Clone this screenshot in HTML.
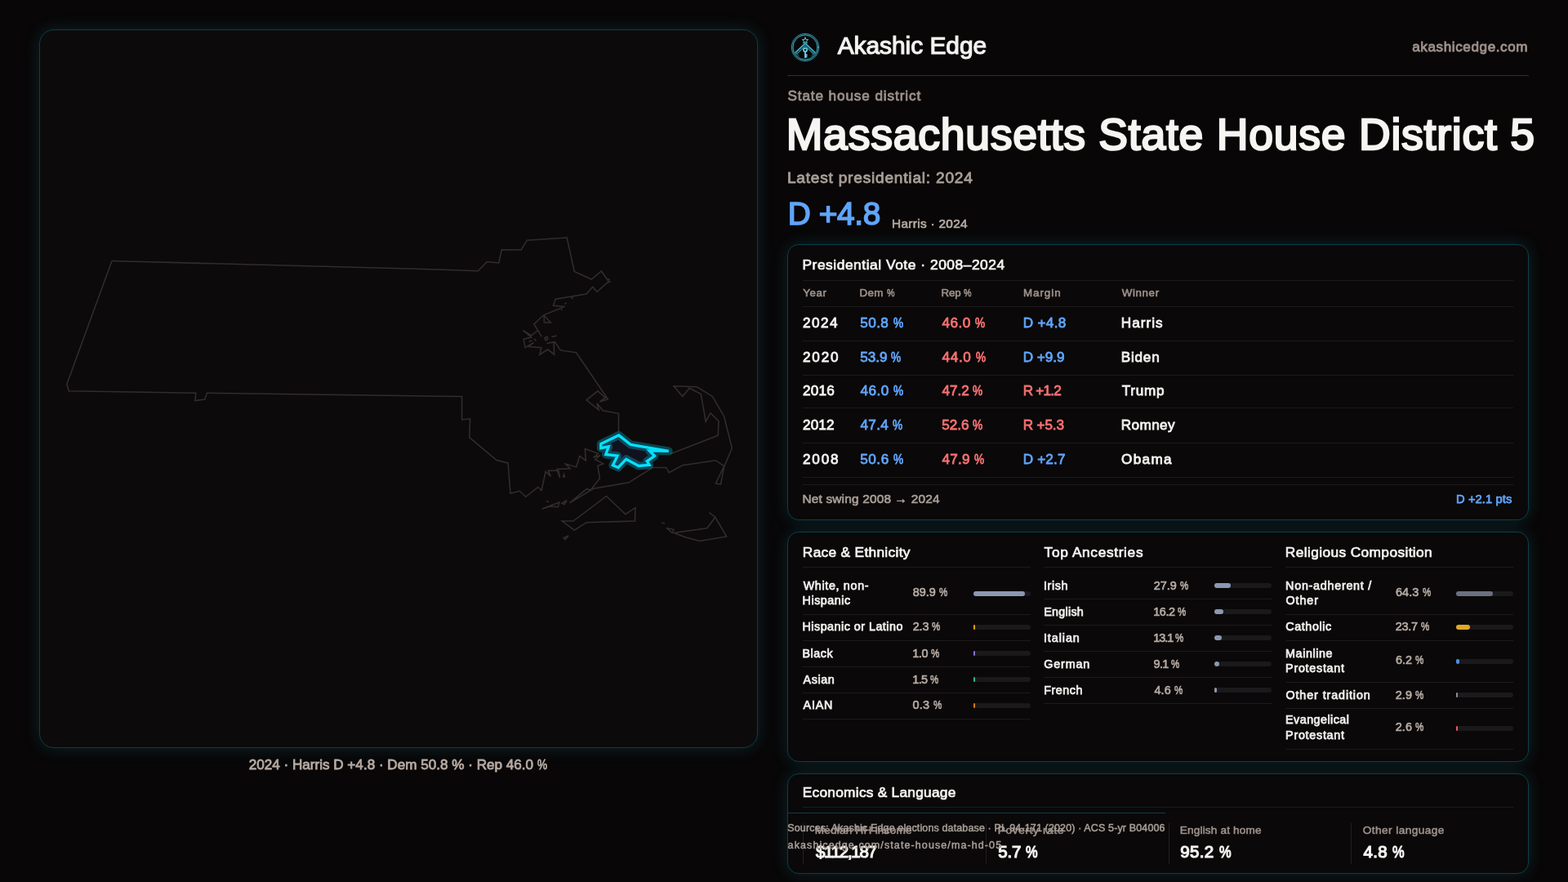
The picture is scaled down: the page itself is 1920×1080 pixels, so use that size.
<!DOCTYPE html>
<html lang="en">
<head>
<meta charset="utf-8">
<title>Massachusetts State House District 5 · Akashic Edge</title>
<style>
*{box-sizing:border-box}
html,body{margin:0;padding:0}
body{width:1920px;height:1080px;overflow:hidden;position:relative;background:#080607;color:#f5f3f0;
  font-family:"Liberation Sans","DejaVu Sans",sans-serif;-webkit-font-smoothing:antialiased}
.t{position:absolute;white-space:pre;line-height:1;margin:0;padding:0;font-weight:400}
.pc{display:inline-block;transform:scaleX(0.8);transform-origin:0 50%}
.card{position:absolute;border:1px solid #0b3e4a;border-radius:14px;background:#0a0809;
  box-shadow:0 0 20px rgba(40,215,235,.15)}
#map{left:48px;top:36px;width:880px;height:880px;border-radius:18px;margin:0;background:#0c0a0b}
.mapsvg{position:absolute;left:0;top:0}
#cap{position:absolute;left:-1px;top:879px;width:880px;height:50px;margin:0}
#head{position:absolute;left:964px;top:36px;width:908px;height:260px}
#head .rule{position:absolute;left:0;top:56px;width:908px;height:1px;background:#0b3e4a}
#logo{position:absolute;left:2px;top:2px;width:40px;height:40px}
#c1{left:964px;top:299px;width:908px;height:338px}
#c2{left:964px;top:651px;width:908px;height:282px}
#c3{left:964px;top:947px;width:908px;height:123px}
.hr{position:absolute;height:1px;background:#1d1a1b}
.vr{position:absolute;width:1px;background:#221f20}
.col{position:absolute;top:0;height:280px;width:279.33px}
.bar{position:absolute;width:70px;height:6px;border-radius:3px;background:#1a191b}
.bar i{position:absolute;left:0;top:0;height:6px;border-radius:3px;display:block}
#foot{position:absolute;left:964px;top:995px;width:463px;height:60px;border-top:1px solid #0b3e4a}
</style>
</head>
<body>

<figure id="map" class="card">
<svg class="mapsvg" width="878" height="878" viewBox="49 37 878 878" aria-label="Massachusetts map with State House District 5 highlighted">
  <g fill="none" stroke="#322d2d" stroke-width="1.55" stroke-linejoin="miter" stroke-linecap="butt">
    <path d="M137,319.5 L520,329.5 L585.3,331.7 L596.3,320.5 L610.8,322 L614.3,305.8 L638,306 L645.3,294.2 L694.2,291 L703.3,332.5 L724.2,342 L736.3,332 L745.3,344.7 L731,357.5 L725.7,351.3 L718,360 L680.3,366.2 L677.5,374.2 L691.7,375.3 L665.6,385.8 L653.9,396.9 L663.3,412.2 M665.6,385.8 L674.4,395 L666.4,394.9 L666.1,387.2 M658,405 L650.6,410.8 L640.3,404.4 L650.6,413 L641.1,415.3 L643.1,425.6 L653.9,419.4 L646.7,424.2 L662.8,425.8 L660.8,434.2 L670.8,427.8 L678.6,434.2 L678.1,418.9 L669.4,420.6 L679.2,418.6 L686.4,428.9 L705.6,431.7 L744.4,488.8 L734.4,491.9 L741.3,486.9 L731.9,478.8 L718.1,489.8 L733.1,501.9 L731,493.8 L738.1,502.8 L757.5,506.3 L757.5,528"/>
    <path d="M821,555.8 L879.2,533.3 L880,515.8 L870,505.8 L864.2,516.3 L858.3,482.5 L844.2,475.3 L835.8,485.5 L825,472.8 L853.3,473.7 L872.5,485.5 L886.7,510 L896.3,548.7 L886.7,571.7 L882.5,593 L876.3,592 L886.7,570.8 L876.3,563.7 L835.8,569.7 L819.2,578.8 L815.8,572.5 L799.2,572.5 L770,590.8 L726.7,598.3 L697.5,615.8 L718.3,598.7 L723.3,600 L734.4,585.6 L731.9,570.6 L738.8,567.8 L728.8,562.5 L735,557.5 L726.3,560.3 L732.5,555.3 L716.3,549.6 L717.3,563.8 L709.8,558.5 L705.6,571.9 L692.5,568.1 L698.1,573.8 L681.9,574.4 L685.6,585 L683.8,576.3 L671.3,576.3 L674.4,583.1 L668.1,577.5 L663.1,600.6 L658.8,596.5 L643.7,608.3 L636.3,601.3 L625,604.2 L622.1,566.9 L608.1,563.5 L574.8,535.6 L575.6,512.8 L565.6,514 L565.6,485.5 L540,485.2 L253.3,481.3 L250.8,489 L238.8,490.5 L240,481.3 L84.3,478.8 L81.8,470.5 L137,319.5"/>
    <path d="M663.3,623.3 L685,615 L683.3,620.8 L673.3,620 Z M688,616.3 L694,612.5 L691,617.8 Z M669,613.6 L672,614.6"/>
    <path d="M688.3,638 L702,638 L742.5,607.5 L765.8,629.7 L778,621.7 L777.5,638 L718.3,639.7 L703.3,649.2 Z M690,658.6 L696,656 L692.3,660.6 Z"/>
    <path d="M825,652.5 L865.8,646.7 L875.8,633.3 L868.3,627.5 L875.8,633.3 L889.7,657 L856.7,662.5 L840.8,658.3 Z M816,646.5 L825,648.6 L823.2,652.6 Z M810,639.6 L814.2,641.4"/>
    <path d="M690.6,581 L689.6,583.6 L691.3,584 Z M744.5,341 L746.5,343 M745.6,346.2 L747.6,344.2 M699,365.6 L702,364.6 M691.6,372.2 L693.6,371 M687,379.6 L688.6,378.6 M667,413.6 L670,412.2 L670.6,415.6 L668,416.6 Z M675.6,412.6 L681.6,411 M654.3,414.6 L656.3,417.6 M647.6,418.3 L651.6,417" stroke-width="1.6"/>
  </g>
  <path d="M757.6,532.9 L772.2,544.4 L818.7,552.4 L795.2,551.9 L801.5,558.3 L792.3,564.8 L795.2,569.4 L782,570.5 L766.8,562.2 L757,572.5 L750.4,569.7 L756.1,558.2 L741.8,556.5 L745.2,547 L735.8,548.7 L735.8,543.5 Z" fill="#12121f"/>
  <path d="M757.6,532.9 L772.2,544.4 L818.7,552.4 L795.2,551.9 L801.5,558.3 L792.3,564.8 L795.2,569.4 L782,570.5 L766.8,562.2 L757,572.5 L750.4,569.7 L756.1,558.2 L741.8,556.5 L745.2,547 L735.8,548.7 L735.8,543.5 Z" fill="none" stroke="#00d0f0" stroke-opacity="0.3" stroke-width="10" stroke-linejoin="round"/>
  <path d="M757.6,532.9 L772.2,544.4 L818.7,552.4 L795.2,551.9 L801.5,558.3 L792.3,564.8 L795.2,569.4 L782,570.5 L766.8,562.2 L757,572.5 L750.4,569.7 L756.1,558.2 L741.8,556.5 L745.2,547 L735.8,548.7 L735.8,543.5 Z" fill="none" stroke="#08e0ff" stroke-width="3.3" stroke-linejoin="miter" stroke-miterlimit="3"/>
</svg>

<figcaption id="cap">
<span class="t" style="left:256.66px;top:12.00px;font-size:17.15px;color:#b5aaa2;letter-spacing:-0.016px;-webkit-text-stroke-width:0.8px;">2024 · Harris D +4.8 · Dem 50.8 % · Rep 46.0 <span class="pc">%</span></span>
</figcaption>
</figure>

<header id="head">
<svg id="logo" viewBox="0 0 40 40" aria-hidden="true">
  <defs>
    <filter id="lg" x="-30%" y="-30%" width="160%" height="160%"><feGaussianBlur stdDeviation="0.9"/></filter>
  </defs>
  <g fill="none" stroke="#1fb4d2" stroke-linecap="round" stroke-linejoin="round" opacity=".3" filter="url(#lg)">
    <circle cx="20" cy="20" r="15.9" stroke-width="2.2"/>
    <path d="M8.8,27 L20,16.2 L31.2,27" stroke-width="2.6"/>
    <path d="M20,21 L20,32" stroke-width="2.2"/>
  </g>
  <g fill="none" stroke="#4fcbe3" stroke-linecap="round" stroke-linejoin="round">
    <circle cx="20" cy="20" r="16.6" stroke-width="0.8" stroke-opacity=".8"/>
    <circle cx="20" cy="20" r="15.1" stroke-width="0.9" stroke-opacity=".85"/>
    <path d="M8,26.2 L20,15 L32,26.2" stroke-width="1.1"/>
    <path d="M10.2,28 L20,18.4 L29.8,28" stroke-width="1" stroke-opacity=".8"/>
    <path d="M9,27.2 L20,16.8 L31,27.2" stroke-width="1.3" stroke-opacity=".3"/>
    <path d="M8,26.2 L12.2,30.8 M32,26.2 L27.8,30.8" stroke-width="0.9" stroke-opacity=".6"/>
    <path d="M20,7.9 L21,10.4 L23.6,10.5 L21.6,12.2 L22.3,14.8 L20,13.3 L17.7,14.8 L18.4,12.2 L16.4,10.5 L19,10.4 Z" stroke-width="1"/>
    <circle cx="20" cy="23.1" r="2.2" stroke-width="1.5" stroke="#79dcee"/>
    <path d="M20,25.7 L20,32.4 M20.4,29.4 L22,29.4 M20.4,31.5 L21.8,31.5" stroke-width="1.6" stroke="#79dcee"/>
  </g>
</svg>

<div class="rule"></div>
<span class="t" style="left:61.64px;top:5.00px;font-size:29.95px;color:#f5f3f0;letter-spacing:-0.045px;-webkit-text-stroke-width:1.15px;">Akashic Edge</span>
<span class="t" style="left:765.16px;top:13.00px;font-size:17.1px;color:#9e918a;letter-spacing:0.601px;-webkit-text-stroke-width:0.85px;">akashicedge.com</span>
<span class="t" style="left:0.40px;top:73.00px;font-size:17.15px;color:#9e918a;letter-spacing:0.898px;-webkit-text-stroke-width:0.8px;">State house district</span>
<span class="t" style="left:-1.25px;top:102.00px;font-size:53.55px;color:#f7f5f2;letter-spacing:0.756px;-webkit-text-stroke-width:2.4px;">Massachusetts State House District 5</span>
<span class="t" style="left:-0.14px;top:172.00px;font-size:19.1px;color:#a89e96;letter-spacing:0.788px;-webkit-text-stroke-width:0.85px;">Latest presidential: 2024</span>
<span class="t" style="left:0.64px;top:207.00px;font-size:38.8px;color:#60a5fa;letter-spacing:-0.337px;-webkit-text-stroke-width:1.6px;">D +4.8</span>
<span class="t" style="left:128.11px;top:230.00px;font-size:15.35px;color:#b5aaa2;letter-spacing:0.310px;-webkit-text-stroke-width:0.7px;">Harris · 2024</span>
</header>

<section id="c1" class="card">
<div class="hr" style="left:18.00px;top:43.00px;width:870.00px"></div>
<div class="hr" style="left:18.00px;top:75.00px;width:870.00px"></div>
<div class="hr" style="left:18.00px;top:117.00px;width:870.00px"></div>
<div class="hr" style="left:18.00px;top:159.00px;width:870.00px"></div>
<div class="hr" style="left:18.00px;top:199.00px;width:870.00px"></div>
<div class="hr" style="left:18.00px;top:242.00px;width:870.00px"></div>
<div class="hr" style="left:18.00px;top:284.00px;width:870.00px"></div>
<div class="hr" style="left:18.00px;top:293.00px;width:870.00px"></div>
<span class="t" style="left:17.49px;top:16.00px;font-size:17.4px;color:#f5f3f0;letter-spacing:0.524px;-webkit-text-stroke-width:0.7px;">Presidential Vote · 2008–2024</span>
<span class="t" style="left:18.20px;top:52.00px;font-size:13.35px;color:#9e918a;letter-spacing:0.587px;-webkit-text-stroke-width:0.6px;">Year</span>
<span class="t" style="left:87.54px;top:52.00px;font-size:13.35px;color:#9e918a;letter-spacing:0.332px;-webkit-text-stroke-width:0.6px;">Dem <span class="pc">%</span></span>
<span class="t" style="left:187.54px;top:52.00px;font-size:13.35px;color:#9e918a;letter-spacing:-0.119px;-webkit-text-stroke-width:0.6px;">Rep <span class="pc">%</span></span>
<span class="t" style="left:287.94px;top:52.00px;font-size:13.35px;color:#9e918a;letter-spacing:0.965px;-webkit-text-stroke-width:0.6px;">Margin</span>
<span class="t" style="left:408.68px;top:52.00px;font-size:13.35px;color:#9e918a;letter-spacing:0.629px;-webkit-text-stroke-width:0.6px;">Winner</span>
<span class="t" style="left:18.01px;top:87.00px;font-size:17.15px;color:#f5f3f0;letter-spacing:1.478px;-webkit-text-stroke-width:0.8px;">2024</span>
<span class="t" style="left:88.17px;top:87.00px;font-size:17.15px;color:#60a5fa;letter-spacing:0.456px;-webkit-text-stroke-width:0.8px;">50.8 <span class="pc">%</span></span>
<span class="t" style="left:188.46px;top:87.00px;font-size:17.15px;color:#f87171;letter-spacing:0.477px;-webkit-text-stroke-width:0.8px;">46.0 <span class="pc">%</span></span>
<span class="t" style="left:287.72px;top:87.00px;font-size:17.15px;color:#60a5fa;letter-spacing:0.310px;-webkit-text-stroke-width:0.8px;">D +4.8</span>
<span class="t" style="left:407.71px;top:87.00px;font-size:17.15px;color:#f5f3f0;letter-spacing:1.051px;-webkit-text-stroke-width:0.8px;">Harris</span>
<span class="t" style="left:18.01px;top:129.00px;font-size:17.15px;color:#f5f3f0;letter-spacing:1.832px;-webkit-text-stroke-width:0.8px;">2020</span>
<span class="t" style="left:88.17px;top:129.00px;font-size:17.15px;color:#60a5fa;letter-spacing:0.036px;-webkit-text-stroke-width:0.8px;">53.9 <span class="pc">%</span></span>
<span class="t" style="left:188.46px;top:129.00px;font-size:17.15px;color:#f87171;letter-spacing:0.697px;-webkit-text-stroke-width:0.8px;">44.0 <span class="pc">%</span></span>
<span class="t" style="left:287.72px;top:129.00px;font-size:17.15px;color:#60a5fa;letter-spacing:-0.039px;-webkit-text-stroke-width:0.8px;">D +9.9</span>
<span class="t" style="left:407.71px;top:129.00px;font-size:17.15px;color:#f5f3f0;letter-spacing:0.785px;-webkit-text-stroke-width:0.8px;">Biden</span>
<span class="t" style="left:18.01px;top:170.00px;font-size:17.15px;color:#f5f3f0;letter-spacing:0.186px;-webkit-text-stroke-width:0.8px;">2016</span>
<span class="t" style="left:88.46px;top:170.00px;font-size:17.15px;color:#60a5fa;letter-spacing:0.477px;-webkit-text-stroke-width:0.8px;">46.0 <span class="pc">%</span></span>
<span class="t" style="left:188.46px;top:170.00px;font-size:17.15px;color:#f87171;letter-spacing:-0.023px;-webkit-text-stroke-width:0.8px;">47.2 <span class="pc">%</span></span>
<span class="t" style="left:287.72px;top:170.00px;font-size:17.15px;color:#f87171;letter-spacing:-0.764px;-webkit-text-stroke-width:0.8px;">R +1.2</span>
<span class="t" style="left:408.77px;top:170.00px;font-size:17.15px;color:#f5f3f0;letter-spacing:0.701px;-webkit-text-stroke-width:0.8px;">Trump</span>
<span class="t" style="left:18.01px;top:212.00px;font-size:17.15px;color:#f5f3f0;letter-spacing:0.153px;-webkit-text-stroke-width:0.8px;">2012</span>
<span class="t" style="left:88.46px;top:212.00px;font-size:17.15px;color:#60a5fa;letter-spacing:0.317px;-webkit-text-stroke-width:0.8px;">47.4 <span class="pc">%</span></span>
<span class="t" style="left:188.17px;top:212.00px;font-size:17.15px;color:#f87171;letter-spacing:0.036px;-webkit-text-stroke-width:0.8px;">52.6 <span class="pc">%</span></span>
<span class="t" style="left:287.72px;top:212.00px;font-size:17.15px;color:#f87171;letter-spacing:-0.147px;-webkit-text-stroke-width:0.8px;">R +5.3</span>
<span class="t" style="left:407.71px;top:212.00px;font-size:17.15px;color:#f5f3f0;letter-spacing:0.412px;-webkit-text-stroke-width:0.8px;">Romney</span>
<span class="t" style="left:18.01px;top:254.00px;font-size:17.15px;color:#f5f3f0;letter-spacing:1.827px;-webkit-text-stroke-width:0.8px;">2008</span>
<span class="t" style="left:88.17px;top:254.00px;font-size:17.15px;color:#60a5fa;letter-spacing:0.576px;-webkit-text-stroke-width:0.8px;">50.6 <span class="pc">%</span></span>
<span class="t" style="left:188.46px;top:254.00px;font-size:17.15px;color:#f87171;letter-spacing:0.217px;-webkit-text-stroke-width:0.8px;">47.9 <span class="pc">%</span></span>
<span class="t" style="left:287.72px;top:254.00px;font-size:17.15px;color:#60a5fa;letter-spacing:0.150px;-webkit-text-stroke-width:0.8px;">D +2.7</span>
<span class="t" style="left:408.09px;top:254.00px;font-size:17.15px;color:#f5f3f0;letter-spacing:1.326px;-webkit-text-stroke-width:0.8px;">Obama</span>
<span class="t" style="left:17.48px;top:303.00px;font-size:15.4px;color:#a89e96;letter-spacing:0.186px;-webkit-text-stroke-width:0.7px;">Net swing 2008 → 2024</span>
<span class="t" style="left:818.02px;top:304.00px;font-size:14.75px;color:#60a5fa;letter-spacing:0.071px;-webkit-text-stroke-width:0.75px;">D +2.1 pts</span>
</section>

<section id="c2" class="card">
<div class="col" id="c2a" style="left:18px">
<div class="hr" style="left:0.00px;top:42.00px;width:279.33px"></div>
<div class="hr" style="left:0.00px;top:100.00px;width:279.33px"></div>
<div class="hr" style="left:0.00px;top:132.00px;width:279.33px"></div>
<div class="hr" style="left:0.00px;top:164.00px;width:279.33px"></div>
<div class="hr" style="left:0.00px;top:196.00px;width:279.33px"></div>
<div class="hr" style="left:0.00px;top:228.00px;width:279.33px"></div>
<div class="bar" style="left:209.30px;top:72.20px"><i style="width:62.93px;background:#8b98b0"></i></div>
<div class="bar" style="left:209.30px;top:113.00px"><i style="width:2.00px;background:#f59e0b"></i></div>
<div class="bar" style="left:209.30px;top:145.00px"><i style="width:1.40px;background:#8b6fd6"></i></div>
<div class="bar" style="left:209.30px;top:177.00px"><i style="width:1.50px;background:#34b88a"></i></div>
<div class="bar" style="left:209.30px;top:209.00px"><i style="width:1.40px;background:#d97a10"></i></div>
<span class="t" style="left:-0.18px;top:16.00px;font-size:17.3px;color:#f5f3f0;letter-spacing:0.320px;-webkit-text-stroke-width:0.7px;">Race &amp; Ethnicity</span>
<span class="t" style="left:0.63px;top:58.00px;font-size:14.3px;color:#f0eeeb;letter-spacing:0.680px;-webkit-text-stroke-width:0.75px;">White, non-</span>
<span class="t" style="left:-0.49px;top:76.00px;font-size:14.3px;color:#f0eeeb;letter-spacing:0.557px;-webkit-text-stroke-width:0.75px;">Hispanic</span>
<span class="t" style="left:134.76px;top:66.00px;font-size:14.45px;color:#b5aaa2;letter-spacing:-0.065px;-webkit-text-stroke-width:0.65px;">89.9 <span class="pc">%</span></span>
<span class="t" style="left:-0.49px;top:108.00px;font-size:14.3px;color:#f0eeeb;letter-spacing:0.498px;-webkit-text-stroke-width:0.75px;">Hispanic or Latino</span>
<span class="t" style="left:134.65px;top:108.00px;font-size:14.45px;color:#b5aaa2;letter-spacing:-0.073px;-webkit-text-stroke-width:0.65px;">2.3 <span class="pc">%</span></span>
<span class="t" style="left:-0.49px;top:141.00px;font-size:14.3px;color:#f0eeeb;letter-spacing:0.519px;-webkit-text-stroke-width:0.75px;">Black</span>
<span class="t" style="left:134.22px;top:141.00px;font-size:14.45px;color:#b5aaa2;letter-spacing:-0.441px;-webkit-text-stroke-width:0.65px;">1.0 <span class="pc">%</span></span>
<span class="t" style="left:0.51px;top:173.00px;font-size:14.3px;color:#f0eeeb;letter-spacing:0.625px;-webkit-text-stroke-width:0.75px;">Asian</span>
<span class="t" style="left:134.22px;top:173.00px;font-size:14.45px;color:#b5aaa2;letter-spacing:-0.591px;-webkit-text-stroke-width:0.65px;">1.5 <span class="pc">%</span></span>
<span class="t" style="left:0.51px;top:204.00px;font-size:14.3px;color:#f0eeeb;letter-spacing:0.843px;-webkit-text-stroke-width:0.75px;">AIAN</span>
<span class="t" style="left:134.58px;top:204.00px;font-size:14.45px;color:#b5aaa2;letter-spacing:0.220px;-webkit-text-stroke-width:0.65px;">0.3 <span class="pc">%</span></span>
</div>
<div class="col" id="c2b" style="left:313.33px">
<div class="hr" style="left:0.00px;top:42.00px;width:279.33px"></div>
<div class="hr" style="left:0.00px;top:81.00px;width:279.34px"></div>
<div class="hr" style="left:0.00px;top:113.00px;width:279.34px"></div>
<div class="hr" style="left:0.00px;top:145.00px;width:279.34px"></div>
<div class="hr" style="left:0.00px;top:177.00px;width:279.34px"></div>
<div class="hr" style="left:0.00px;top:209.00px;width:279.34px"></div>
<div class="bar" style="left:208.67px;top:62.20px"><i style="width:19.53px;background:#8b98b0"></i></div>
<div class="bar" style="left:208.67px;top:94.20px"><i style="width:11.34px;background:#8b98b0"></i></div>
<div class="bar" style="left:208.67px;top:126.20px"><i style="width:9.17px;background:#8b98b0"></i></div>
<div class="bar" style="left:208.67px;top:158.20px"><i style="width:6.37px;background:#8b98b0"></i></div>
<div class="bar" style="left:208.67px;top:190.20px"><i style="width:3.22px;background:#8b98b0"></i></div>
<span class="t" style="left:0.26px;top:16.00px;font-size:17.3px;color:#f5f3f0;letter-spacing:0.658px;-webkit-text-stroke-width:0.7px;">Top Ancestries</span>
<span class="t" style="left:-0.42px;top:58.00px;font-size:14.3px;color:#f0eeeb;letter-spacing:0.631px;-webkit-text-stroke-width:0.75px;">Irish</span>
<span class="t" style="left:134.32px;top:58.00px;font-size:14.45px;color:#b5aaa2;letter-spacing:-0.024px;-webkit-text-stroke-width:0.65px;">27.9 <span class="pc">%</span></span>
<span class="t" style="left:-0.20px;top:90.00px;font-size:14.3px;color:#f0eeeb;letter-spacing:0.294px;-webkit-text-stroke-width:0.75px;">English</span>
<span class="t" style="left:133.89px;top:90.00px;font-size:14.45px;color:#b5aaa2;letter-spacing:-0.439px;-webkit-text-stroke-width:0.65px;">16.2 <span class="pc">%</span></span>
<span class="t" style="left:-0.42px;top:122.00px;font-size:14.3px;color:#f0eeeb;letter-spacing:0.952px;-webkit-text-stroke-width:0.75px;">Italian</span>
<span class="t" style="left:133.89px;top:122.00px;font-size:14.45px;color:#b5aaa2;letter-spacing:-1.039px;-webkit-text-stroke-width:0.65px;">13.1 <span class="pc">%</span></span>
<span class="t" style="left:-0.02px;top:154.00px;font-size:14.3px;color:#f0eeeb;letter-spacing:0.857px;-webkit-text-stroke-width:0.75px;">German</span>
<span class="t" style="left:134.21px;top:154.00px;font-size:14.45px;color:#b5aaa2;letter-spacing:-0.620px;-webkit-text-stroke-width:0.65px;">9.1 <span class="pc">%</span></span>
<span class="t" style="left:-0.20px;top:186.00px;font-size:14.3px;color:#f0eeeb;letter-spacing:0.562px;-webkit-text-stroke-width:0.75px;">French</span>
<span class="t" style="left:135.08px;top:186.00px;font-size:14.45px;color:#b5aaa2;letter-spacing:0.112px;-webkit-text-stroke-width:0.65px;">4.6 <span class="pc">%</span></span>
</div>
<div class="col" id="c2c" style="left:608.67px">
<div class="hr" style="left:0.00px;top:42.00px;width:279.33px"></div>
<div class="hr" style="left:0.00px;top:100.00px;width:279.33px"></div>
<div class="hr" style="left:0.00px;top:132.00px;width:279.33px"></div>
<div class="hr" style="left:0.00px;top:183.00px;width:279.33px"></div>
<div class="hr" style="left:0.00px;top:215.00px;width:279.33px"></div>
<div class="hr" style="left:0.00px;top:265.00px;width:279.33px"></div>
<div class="bar" style="left:209.33px;top:72.20px"><i style="width:45.01px;background:#6b7080"></i></div>
<div class="bar" style="left:209.33px;top:113.00px"><i style="width:16.59px;background:#e0a826"></i></div>
<div class="bar" style="left:209.33px;top:155.00px"><i style="width:4.34px;background:#4a90e2"></i></div>
<div class="bar" style="left:209.33px;top:196.20px"><i style="width:2.03px;background:#8a8f98"></i></div>
<div class="bar" style="left:209.33px;top:237.00px"><i style="width:2.00px;background:#e05a5a"></i></div>
<span class="t" style="left:0.15px;top:16.00px;font-size:17.3px;color:#f5f3f0;letter-spacing:0.400px;-webkit-text-stroke-width:0.7px;">Religious Composition</span>
<span class="t" style="left:0.46px;top:58.00px;font-size:14.3px;color:#f0eeeb;letter-spacing:0.747px;-webkit-text-stroke-width:0.75px;">Non-adherent /</span>
<span class="t" style="left:0.82px;top:76.00px;font-size:14.3px;color:#f0eeeb;letter-spacing:0.949px;-webkit-text-stroke-width:0.75px;">Other</span>
<span class="t" style="left:135.24px;top:66.00px;font-size:14.45px;color:#b5aaa2;letter-spacing:0.124px;-webkit-text-stroke-width:0.65px;">64.3 <span class="pc">%</span></span>
<span class="t" style="left:0.65px;top:108.00px;font-size:14.3px;color:#f0eeeb;letter-spacing:0.604px;-webkit-text-stroke-width:0.75px;">Catholic</span>
<span class="t" style="left:135.20px;top:108.00px;font-size:14.45px;color:#b5aaa2;letter-spacing:-0.288px;-webkit-text-stroke-width:0.65px;">23.7 <span class="pc">%</span></span>
<span class="t" style="left:0.46px;top:141.00px;font-size:14.3px;color:#f0eeeb;letter-spacing:0.588px;-webkit-text-stroke-width:0.75px;">Mainline</span>
<span class="t" style="left:0.46px;top:159.00px;font-size:14.3px;color:#f0eeeb;letter-spacing:0.745px;-webkit-text-stroke-width:0.75px;">Protestant</span>
<span class="t" style="left:135.24px;top:149.00px;font-size:14.45px;color:#b5aaa2;letter-spacing:-0.012px;-webkit-text-stroke-width:0.65px;">6.2 <span class="pc">%</span></span>
<span class="t" style="left:0.82px;top:192.00px;font-size:14.3px;color:#f0eeeb;letter-spacing:0.906px;-webkit-text-stroke-width:0.75px;">Other tradition</span>
<span class="t" style="left:135.20px;top:192.00px;font-size:14.45px;color:#b5aaa2;letter-spacing:-0.003px;-webkit-text-stroke-width:0.65px;">2.9 <span class="pc">%</span></span>
<span class="t" style="left:0.46px;top:222.00px;font-size:14.3px;color:#f0eeeb;letter-spacing:0.469px;-webkit-text-stroke-width:0.75px;">Evangelical</span>
<span class="t" style="left:0.46px;top:241.00px;font-size:14.3px;color:#f0eeeb;letter-spacing:0.745px;-webkit-text-stroke-width:0.75px;">Protestant</span>
<span class="t" style="left:135.20px;top:231.00px;font-size:14.45px;color:#b5aaa2;letter-spacing:-0.003px;-webkit-text-stroke-width:0.65px;">2.6 <span class="pc">%</span></span>
</div>
</section>

<section id="c3" class="card">
<div class="hr" style="left:18.00px;top:40.00px;width:870.00px"></div>
<div class="vr" style="left:18.00px;top:60.00px;height:49.50px"></div>
<div class="vr" style="left:242.00px;top:60.00px;height:49.50px"></div>
<div class="vr" style="left:465.50px;top:60.00px;height:49.50px"></div>
<div class="vr" style="left:689.00px;top:60.00px;height:49.50px"></div>
<span class="t" style="left:17.81px;top:14.00px;font-size:17.3px;color:#f5f3f0;letter-spacing:0.264px;-webkit-text-stroke-width:0.7px;">Economics &amp; Language</span>
<span class="t" style="left:32.74px;top:62.00px;font-size:13.6px;color:#9e918a;letter-spacing:0.212px;-webkit-text-stroke-width:0.55px;">Median HH income</span>
<span class="t" style="left:34.03px;top:85.00px;font-size:20.5px;color:#f5f3f0;letter-spacing:-1.298px;-webkit-text-stroke-width:1.2px;">$112,187</span>
<span class="t" style="left:256.76px;top:62.00px;font-size:13.6px;color:#9e918a;letter-spacing:0.679px;-webkit-text-stroke-width:0.55px;">Poverty rate</span>
<span class="t" style="left:257.35px;top:85.00px;font-size:20.5px;color:#f5f3f0;letter-spacing:-0.188px;-webkit-text-stroke-width:1.2px;">5.7 <span class="pc">%</span></span>
<span class="t" style="left:479.81px;top:62.00px;font-size:13.6px;color:#9e918a;letter-spacing:0.168px;-webkit-text-stroke-width:0.55px;">English at home</span>
<span class="t" style="left:480.18px;top:85.00px;font-size:20.5px;color:#f5f3f0;letter-spacing:0.344px;-webkit-text-stroke-width:1.2px;">95.2 <span class="pc">%</span></span>
<span class="t" style="left:703.84px;top:62.00px;font-size:13.6px;color:#9e918a;letter-spacing:0.450px;-webkit-text-stroke-width:0.55px;">Other language</span>
<span class="t" style="left:704.42px;top:85.00px;font-size:20.5px;color:#f5f3f0;letter-spacing:0.419px;-webkit-text-stroke-width:1.2px;">4.8 <span class="pc">%</span></span>
</section>

<footer id="foot">
<span class="t" style="left:0.32px;top:12.00px;font-size:12.5px;color:#a89e96;letter-spacing:0.136px;-webkit-text-stroke-width:0.5px;">Sources: Akashic Edge elections database · PL 94-171 (2020) · ACS 5-yr B04006</span>
<span class="t" style="left:0.62px;top:33.00px;font-size:12.5px;color:#a89e96;letter-spacing:1.099px;-webkit-text-stroke-width:0.5px;">akashicedge.com/state-house/ma-hd-05</span>
</footer>

</body>
</html>
